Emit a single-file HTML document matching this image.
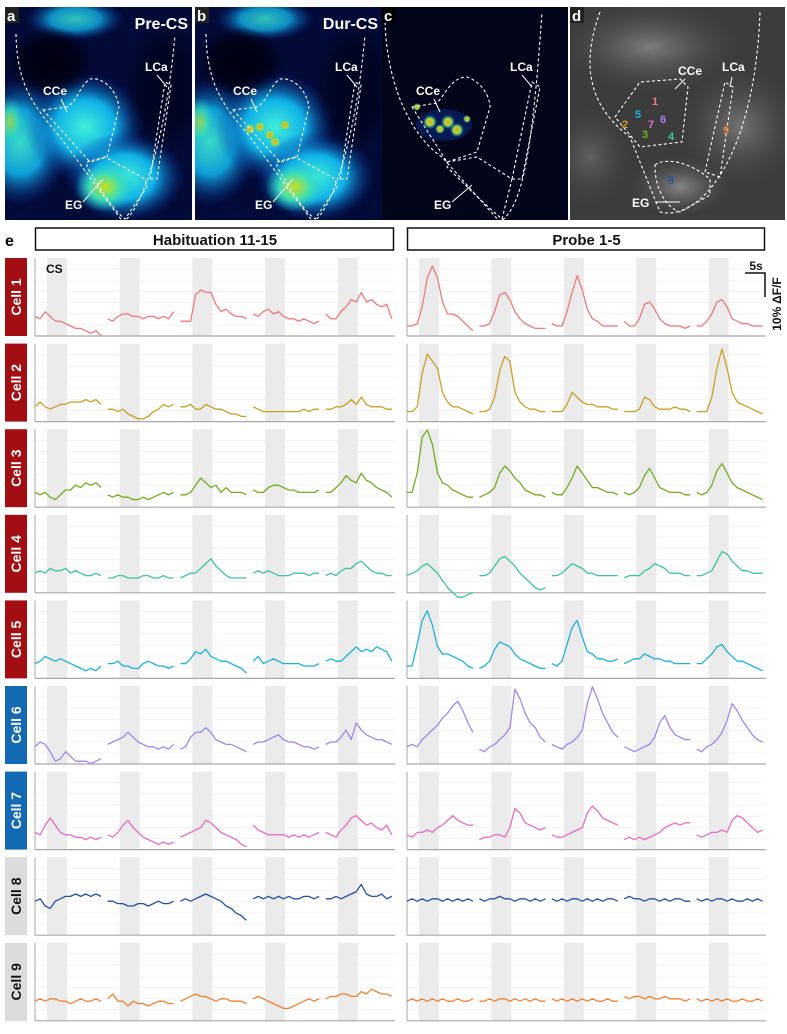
<!DOCTYPE html>
<html><head><meta charset="utf-8">
<style>
html,body{margin:0;padding:0;background:#fff;}
body{width:787px;height:1029px;position:relative;overflow:hidden;font-family:"Liberation Sans",Arial,sans-serif;}
svg text{font-family:"Liberation Sans",Arial,sans-serif;font-weight:bold;}
</style></head>
<body>
<svg id="fig" width="787" height="1029" viewBox="0 0 787 1029" xmlns="http://www.w3.org/2000/svg">
<defs>
 <radialGradient id="gBlue" cx="50%" cy="50%" r="50%"><stop offset="0" stop-color="#40f0d8"/><stop offset="0.5" stop-color="#10b0e8"/><stop offset="1" stop-color="#0a2a90" stop-opacity="0"/></radialGradient>
 <radialGradient id="gHot" cx="50%" cy="50%" r="50%"><stop offset="0" stop-color="#c8e020"/><stop offset="0.5" stop-color="#40e0b0"/><stop offset="1" stop-color="#20c0e0" stop-opacity="0"/></radialGradient>
 <radialGradient id="gSpot" cx="50%" cy="50%" r="50%"><stop offset="0" stop-color="#f0a020"/><stop offset="0.5" stop-color="#a0e040"/><stop offset="1" stop-color="#30c0e0" stop-opacity="0"/></radialGradient>
 <radialGradient id="gDark" cx="50%" cy="50%" r="50%"><stop offset="0" stop-color="#000010"/><stop offset="0.6" stop-color="#000010" stop-opacity="0.8"/><stop offset="1" stop-color="#000010" stop-opacity="0"/></radialGradient>
 <radialGradient id="gGray" cx="50%" cy="50%" r="50%"><stop offset="0" stop-color="#9a9a9a"/><stop offset="1" stop-color="#555" stop-opacity="0"/></radialGradient>
 <clipPath id="cpA"><rect x="0" y="0" width="187" height="213"/></clipPath>
 <clipPath id="cpD"><rect x="0" y="0" width="215" height="213"/></clipPath>
</defs>
<g id="images"></g>
<g id="traces"></g>
</svg>
<script>
// ---------- data ----------
const cellNames = ["Cell 1","Cell 2","Cell 3","Cell 4","Cell 5","Cell 6","Cell 7","Cell 8","Cell 9"];
const cellColors = ["#ef7a7a","#c9a024","#72ad22","#3fc3a2","#1db3d8","#a585ee","#e86cc8","#23529e","#ee8235"];
const labelColors = ["#a30e12","#a30e12","#a30e12","#a30e12","#a30e12","#1469b5","#1469b5","#dcdcdc","#dcdcdc"];
const panelTitles = ["Habituation 11-15","Probe 1-5"];
// values in % dF/F, 14 samples per trial, 5 trials per panel
const habValues = [
 [[4,3,6,4,2,2,1,0,-1,-1,-2,-3,-2,-4],[3,2,4,5,5,4,4,3,4,4,3,4,3,6],[2,2,2,13,15,14,14,9,6,7,5,4,4,3],[5,4,6,7,5,6,4,3,3,2,3,2,1,2],[5,3,3,6,8,11,10,14,10,11,9,8,9,3]],
 [[2,4,2,1,2,3,3,4,4,4,5,4,5,3],[1,1,0,1,-1,-2,-3,-3,-2,0,1,3,2,3],[2,2,3,1,1,3,2,1,1,0,-1,-1,-2,-2],[2,1,0,0,0,0,0,0,0,0,1,0,1,1],[1,1,2,2,3,5,3,6,3,2,2,2,1,1]],
 [[2,1,2,0,-1,1,3,3,5,4,6,5,6,4],[1,0,1,0,0,-1,-1,0,-1,0,1,2,1,2],[1,1,2,5,8,6,4,5,2,4,2,2,2,1],[3,2,2,4,5,5,4,3,3,2,2,2,2,3],[2,2,4,6,9,7,6,10,7,6,4,3,2,0]],
 [[4,5,4,6,5,5,6,4,5,4,3,3,4,3],[2,2,3,3,2,2,2,3,3,2,2,3,2,2],[2,3,4,4,6,8,10,7,5,3,2,2,2,2],[4,5,4,5,4,3,3,3,4,4,4,3,4,4],[3,4,3,5,6,6,8,9,7,5,4,4,3,3]],
 [[2,3,5,4,3,4,3,2,1,0,-1,0,-1,1],[2,2,3,1,1,0,0,2,3,2,1,1,0,1],[2,2,4,7,6,8,5,4,3,3,2,1,0,-2],[3,5,2,3,4,3,2,2,2,2,1,1,1,2],[3,4,3,3,5,7,9,7,8,7,9,8,7,3]],
 [[3,5,4,1,-3,-2,1,-1,-3,-3,-3,-4,-3,-2],[4,5,6,7,9,7,5,4,3,3,2,3,2,4],[2,3,7,9,9,11,9,6,5,4,4,3,2,1],[4,5,5,6,7,8,6,5,5,4,3,3,2,3],[4,5,5,7,10,6,13,10,8,7,6,6,5,4]],
 [[3,2,6,9,6,3,2,2,1,1,0,1,0,1],[2,1,3,6,8,5,3,1,0,-1,-2,-1,-2,-1],[1,2,3,4,5,8,7,5,3,2,1,0,-2,-3],[6,4,3,2,2,2,2,1,2,1,2,1,2,3],[3,2,1,4,6,9,10,8,6,7,5,4,6,2]],
 [[10,11,8,7,10,11,12,12,13,12,13,12,13,12],[10,10,9,9,8,8,9,9,8,9,10,9,9,10],[10,11,10,11,12,13,12,11,10,8,7,5,4,2],[11,12,11,12,11,12,11,12,11,11,12,12,11,12],[11,11,12,11,12,13,14,17,13,12,12,13,11,12]],
 [[4,5,4,5,5,4,4,3,4,5,4,4,5,4],[5,7,4,4,2,4,3,3,2,3,4,4,3,3],[4,5,6,7,6,6,5,4,5,5,4,4,4,3],[5,6,5,4,3,2,1,1,2,3,4,5,4,5],[5,6,6,7,7,6,6,8,7,9,8,7,7,6]]
];
const probeValues = [
 [[0,0,1,8,20,25,20,10,5,5,4,2,0,-2],[0,0,1,6,13,14,11,6,3,1,0,-1,-1,-1],[1,0,0,6,14,21,15,7,3,2,0,0,0,0],[2,0,0,3,9,10,7,3,1,0,0,0,-1,0],[0,0,2,5,10,11,8,3,2,1,1,0,0,0]],
 [[0,0,2,16,24,21,18,8,4,2,2,1,0,-1],[0,0,1,6,17,23,21,8,4,2,1,1,0,0],[0,0,0,3,8,6,4,3,3,2,2,2,1,1],[0,0,0,1,6,5,2,1,1,1,2,1,1,0],[0,0,0,6,18,26,18,8,4,3,2,1,0,-1]],
 [[2,2,10,25,28,22,10,6,5,3,2,1,0,0],[0,1,2,4,10,13,11,8,6,3,2,1,1,0],[2,1,1,4,8,13,10,7,4,4,3,2,2,1],[2,1,2,4,9,12,8,4,3,2,2,2,1,1],[2,1,2,5,11,14,10,6,4,3,2,1,0,-1]],
 [[3,4,5,7,8,6,4,1,-2,-4,-6,-6,-5,-4],[3,3,4,7,10,11,9,7,4,2,0,-2,-3,-2],[3,3,4,6,8,7,6,4,4,3,3,3,3,3],[2,3,3,3,5,6,8,7,6,4,4,4,3,3],[3,3,4,5,9,13,12,9,7,5,5,4,4,4]],
 [[1,1,10,20,24,18,9,6,6,5,4,3,1,0],[0,1,3,8,11,10,9,6,4,3,2,1,0,0],[2,1,3,10,17,20,13,7,6,4,4,3,3,4],[2,3,4,4,6,5,4,4,3,3,2,2,2,2],[2,2,4,6,9,10,7,5,3,3,2,1,0,-1]],
 [[3,4,3,6,8,10,12,15,17,20,22,18,13,9],[2,1,3,4,6,8,11,27,23,17,13,11,7,5],[4,3,2,4,5,7,10,21,28,23,17,13,9,7],[3,2,1,2,3,4,7,13,16,11,8,7,6,6],[2,1,3,4,6,9,14,21,18,14,11,8,6,5]],
 [[2,1,3,3,4,3,5,6,8,10,8,7,6,6],[0,1,1,2,2,1,5,13,11,7,6,5,4,5],[2,1,1,2,3,4,5,11,14,12,9,8,7,6],[0,1,0,1,0,1,2,3,5,6,7,6,7,7],[2,1,2,3,3,4,3,8,10,9,7,5,3,4]],
 [[10,11,10,11,10,11,11,10,11,10,11,10,11,10],[11,10,11,11,12,11,11,10,11,11,10,11,10,11],[11,10,11,10,11,11,10,11,10,11,10,11,11,10],[11,12,11,11,10,11,11,10,11,10,11,11,10,10],[11,10,11,10,11,11,10,11,10,10,11,10,11,10]],
 [[4,5,4,5,4,5,4,5,4,4,5,4,4,5],[4,4,5,4,5,5,4,5,4,5,4,5,4,4],[5,4,5,4,5,4,5,4,5,4,4,5,4,4],[6,5,6,6,5,6,5,5,6,5,5,5,4,5],[5,4,5,4,5,4,5,4,4,5,4,4,5,4]]
];
const panelValues = [habValues, probeValues];

// ---------- layout ----------
const NS = "http://www.w3.org/2000/svg";
function mk(tag, attrs, parent){const e=document.createElementNS(NS,tag);for(const k in attrs)e.setAttribute(k,attrs[k]);if(parent)parent.appendChild(e);return e;}
const panelX0 = [35, 407], panelX1 = [395, 766];
const bandX0 = [47, 419], bandPitch = [72.7, 72.4], bandW = 20;
const rowTop0 = 258, rowPitch = 85.6, rowH = 78;
const pxPerPct = 2.4, baseOff = 10, segLen = 66;
function xScale(p, trial, i){return bandX0[p] + trial*bandPitch[p] - 12 + i*segLen/13;}
function yScale(r, v){return rowTop0 + r*rowPitch + rowH - baseOff - v*pxPerPct;}

const T = document.getElementById('traces');
let t = mk('text',{x:5,y:246,'font-size':16,fill:'#000'},T); t.textContent='e';
 
panelTitles.forEach((title,p)=>{
  const g = mk('g',{},T);
  
  
  mk('rect',{x:panelX0[p]+0.5,y:228,width:panelX1[p]-panelX0[p]-2,height:22,fill:'#fff',stroke:'#111','stroke-width':1.5},g);
  const tx = mk('text',{x:(panelX0[p]+panelX1[p])/2,y:245,'font-size':15,'text-anchor':'middle',fill:'#111'},g);
  tx.textContent = title;
});

cellNames.forEach((name,r)=>{
  const top = rowTop0 + r*rowPitch;
  const lab = mk('g',{},T);
  
  
  mk('rect',{x:5,y:top,width:22,height:rowH,fill:labelColors[r]},lab);
  const lt = mk('text',{x:0,y:0,'font-size':14,'text-anchor':'middle',fill:r>=7?'#111':'#fff',transform:`translate(21,${top+rowH/2}) rotate(-90)`},lab);
  lt.textContent = name;
  [0,1].forEach(p=>{
    const g = mk('g',{},T);
    
    
    for(let k=1;k<=6;k++){
      const gy = top + k*rowH/7;
      mk('line',{x1:panelX0[p],x2:panelX1[p],y1:gy,y2:gy,stroke:'#f3f3f3','stroke-width':1},g);
    }
    for(let tr=0;tr<5;tr++){
      const b = mk('rect',{x:bandX0[p]+tr*bandPitch[p],y:top,width:bandW,height:rowH,fill:'#ebebeb'},g);
      
      
    }
    mk('line',{x1:panelX0[p],x2:panelX0[p],y1:top,y2:top+rowH,stroke:'#a8a8a8','stroke-width':1},g);
    mk('line',{x1:panelX0[p],x2:panelX1[p],y1:top+rowH,y2:top+rowH,stroke:'#a8a8a8','stroke-width':1.2},g);
    panelValues[p][r].forEach((vals,tr)=>{
      const pts = vals.map((v,i)=>xScale(p,tr,i).toFixed(1)+','+yScale(r,v).toFixed(1)).join(' ');
      const pl = mk('polyline',{points:pts,fill:'none',stroke:cellColors[r],'stroke-width':1.3,'stroke-linejoin':'round'},g);
      
      
    });
  });
});
t = mk('text',{x:46,y:273,'font-size':12,fill:'#111'},T); t.textContent='CS';
 
const sb = mk('g',{},T);


mk('path',{d:'M745,273 H765 V297',fill:'none',stroke:'#111','stroke-width':1.5},sb);
let st = mk('text',{x:756,y:270,'font-size':12,'text-anchor':'middle',fill:'#111'},sb); st.textContent='5s';
st = mk('text',{x:0,y:0,'font-size':12,'text-anchor':'middle',fill:'#111',transform:'translate(781,304) rotate(-90)'},sb); st.textContent='10% ΔF/F';

// ---------- images ----------
const I = document.getElementById('images');
function outlines(g){
  const d = {fill:'none',stroke:'#fff','stroke-width':1.1,'stroke-dasharray':'3,2.5'};
  mk('path',Object.assign({d:'M11,27 C12,80 30,100 55,130 L118,215 C135,205 160,140 170,28'},d),g);
  mk('path',Object.assign({d:'M38,103 L62,100 C72,95 75,78 85,72 C100,70 112,85 114,100 L102,150 L85,155 Z'},d),g);
  mk('path',Object.assign({d:'M82,155 L100,150 L140,172 L142,180 L120,212 C105,200 95,180 82,160 Z'},d),g);
  mk('path',Object.assign({d:'M145,172 L160,75 L166,78 L152,172 Z'},d),g);
}
function label(g,x,y,txt,size){const e=mk('text',{x:x,y:y,'font-size':size||12,fill:'#fff'},g);e.textContent=txt;return e;}
function panelLetter(g,txt,dark){
  mk('rect',{x:0,y:0,width:14,height:16,fill:dark?'#000':'#222'},g);
  const e=mk('text',{x:2,y:14,'font-size':15,fill:'#fff'},g);e.textContent=txt;
}
[[5,'a','Pre-CS',false],[195,'b','Dur-CS',true]].forEach(([x0,letter,title,dur])=>{
  const g = mk('g',{transform:`translate(${x0},7)`,'clip-path':'url(#cpA)'},I);
  
  
  mk('rect',{x:0,y:0,width:187,height:213,fill:'#020a38'},g);
  mk('ellipse',{cx:70,cy:12,rx:50,ry:22,fill:'url(#gBlue)',opacity:0.8},g);
  mk('ellipse',{cx:15,cy:135,rx:50,ry:65,fill:'url(#gBlue)',opacity:0.9},g);
  mk('ellipse',{cx:80,cy:120,rx:60,ry:55,fill:'url(#gBlue)'},g);
  mk('ellipse',{cx:120,cy:170,rx:60,ry:45,fill:'url(#gBlue)'},g);
  mk('ellipse',{cx:100,cy:180,rx:30,ry:25,fill:'url(#gHot)'},g);
  mk('ellipse',{cx:5,cy:115,rx:15,ry:25,fill:'url(#gHot)',opacity:0.7},g);
  mk('ellipse',{cx:45,cy:55,rx:45,ry:35,fill:'url(#gDark)'},g);
  mk('ellipse',{cx:160,cy:80,rx:40,ry:70,fill:'url(#gDark)',opacity:0.6},g);
  if(dur){[[55,122],[65,120],[75,128],[80,135],[90,118]].forEach(([cx,cy])=>mk('circle',{cx:cx,cy:cy,r:6,fill:'url(#gSpot)'},g));}
  outlines(g);
  panelLetter(g,letter);
  mk('text',{x:183,y:22,'font-size':16,fill:'#fff','text-anchor':'end'},g).textContent=title;
  label(g,38,88,'CCe');mk('line',{x1:56,y1:92,x2:62,y2:105,stroke:'#fff'},g);
  label(g,140,64,'LCa');mk('line',{x1:152,y1:68,x2:162,y2:80,stroke:'#fff'},g);
  label(g,60,202,'EG');mk('line',{x1:78,y1:195,x2:98,y2:172,stroke:'#fff'},g);
});
(function(){
  const g = mk('g',{transform:'translate(382,7)','clip-path':'url(#cpA)'},I);
  
  
  mk('rect',{x:0,y:0,width:186,height:213,fill:'#02051a'},g);
  mk('ellipse',{cx:62,cy:118,rx:28,ry:16,fill:'#1040c0',opacity:0.35},g);
  [[48,115,7],[66,115,7],[75,123,7],[58,122,5],[85,112,4],[35,100,4]].forEach(([cx,cy,rr])=>mk('circle',{cx:cx,cy:cy,r:rr,fill:'url(#gSpot)'},g));
  const d={fill:'none',stroke:'#fff','stroke-width':1.1,'stroke-dasharray':'3,2.5'};
  mk('path',Object.assign({d:'M3,15 C5,80 30,130 60,150 L118,215 C140,200 150,150 160,5'},d),g);
  mk('path',Object.assign({d:'M30,100 L55,96 C65,85 70,70 85,70 C100,75 108,90 108,100 L95,145 L65,155 Z'},d),g);
  mk('path',Object.assign({d:'M65,155 L95,150 L130,172 L120,212 C100,195 80,175 65,160 Z'},d),g);
  mk('path',Object.assign({d:'M130,172 L150,75 L158,80 L140,172 Z'},d),g);
  panelLetter(g,'c',true);
  label(g,34,88,'CCe');mk('line',{x1:52,y1:92,x2:58,y2:105,stroke:'#fff'},g);
  label(g,128,64,'LCa');mk('line',{x1:140,y1:68,x2:150,y2:80,stroke:'#fff'},g);
  label(g,52,202,'EG');mk('line',{x1:70,y1:195,x2:90,y2:178,stroke:'#fff'},g);
})();
(function(){
  const g = mk('g',{transform:'translate(570,7)','clip-path':'url(#cpD)'},I);
  
  
  mk('rect',{x:0,y:0,width:215,height:213,fill:'#3c3c3c'},g);
  mk('ellipse',{cx:80,cy:40,rx:90,ry:45,fill:'url(#gGray)',opacity:0.7},g);
  mk('ellipse',{cx:170,cy:120,rx:60,ry:60,fill:'url(#gGray)',opacity:0.6},g);
  mk('ellipse',{cx:110,cy:180,rx:50,ry:30,fill:'url(#gGray)',opacity:0.8},g);
  mk('ellipse',{cx:20,cy:150,rx:40,ry:50,fill:'url(#gGray)',opacity:0.4},g);
  const d={fill:'none',stroke:'#fff','stroke-width':1.1,'stroke-dasharray':'3,2.5'};
  mk('path',Object.assign({d:'M30,5 C10,60 20,100 60,130 L90,205 C130,215 185,150 190,5'},d),g);
  mk('path',Object.assign({d:'M45,110 L70,75 L110,72 L118,80 L112,135 L70,140 Z'},d),g);
  mk('path',Object.assign({d:'M85,158 C95,150 120,155 140,172 L140,188 L110,205 C95,200 85,180 85,160 Z'},d),g);
  mk('path',Object.assign({d:'M135,165 L155,75 L163,80 L150,170 Z'},d),g);
  panelLetter(g,'d',false);
  label(g,108,68,'CCe');mk('line',{x1:105,y1:82,x2:115,y2:72,stroke:'#fff'},g);
  label(g,152,64,'LCa');mk('line',{x1:160,y1:80,x2:162,y2:70,stroke:'#fff'},g);
  label(g,62,200,'EG');mk('line',{x1:85,y1:195,x2:110,y2:195,stroke:'#fff'},g);
  const nums=[['1',82,98],['2',52,121],['3',72,131],['4',98,133],['5',65,111],['6',90,116],['7',78,121],['8',98,177],['9',153,127]];
  nums.forEach(([n,x,y],i)=>{const e=mk('text',{x:x,y:y,'font-size':11,fill:cellColors[i]},g);e.textContent=n;});
})();
</script>
</body></html>
